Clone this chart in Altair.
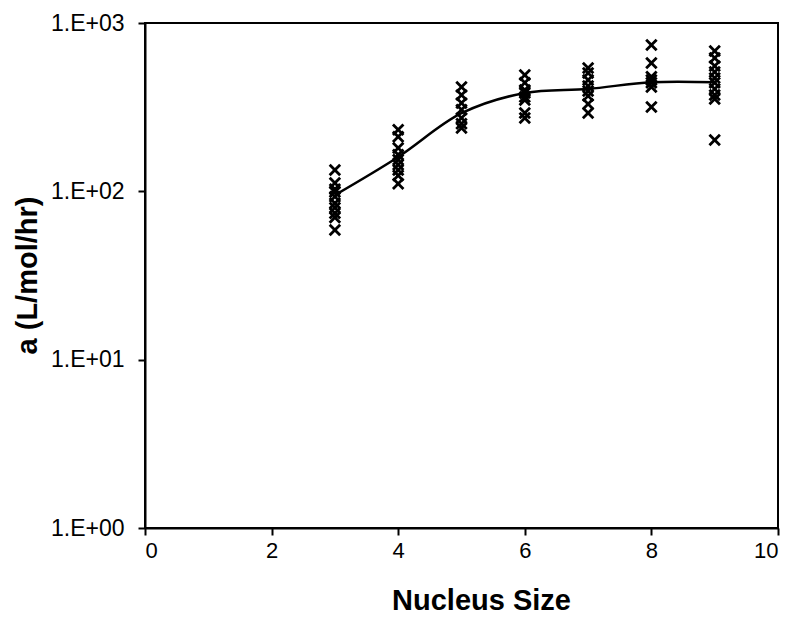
import altair as alt
import pandas as pd

nucleus_sizes = [3, 4, 5, 6, 7, 8, 9]
a_at_3 = [134, 112, 103, 99, 93, 85, 80, 74, 70, 59]
a_at_4 = [232, 211, 181, 165, 154, 144, 134, 124, 111]
a_at_5 = [417, 374, 335, 305, 273, 252, 238]
a_at_6 = [491, 441, 400, 384, 364, 349, 292, 273]
a_at_7 = [541, 505, 459, 423, 395, 369, 330, 292]
a_at_8 = [740, 579, 479, 459, 441, 417, 317]
a_at_9 = [682, 620, 556, 512, 472, 441, 406, 374, 354, 202]
fit_line = [95, 160, 291, 384, 406, 445, 445]

groups = [a_at_3, a_at_4, a_at_5, a_at_6, a_at_7, a_at_8, a_at_9]
rows = []
for n, vals in zip(nucleus_sizes, groups):
    for v in vals:
        rows.append({"n": n, "a": v})
pts = pd.DataFrame(rows)
fit = pd.DataFrame({"n": nucleus_sizes, "a": fit_line})

FONT = "Liberation Sans"

xenc = alt.X("n:Q", scale=alt.Scale(domain=[0, 10], nice=False),
             axis=alt.Axis(title="Nucleus Size", values=[0, 2, 4, 6, 8, 10], format="d",
                           grid=False, tickSize=7, tickWidth=2, tickColor="black",
                           domainColor="black", domainWidth=2,
                           labelFont=FONT, labelFontSize=22, labelColor="black",
                           labelPadding=5,
                           titleFont=FONT, titleFontSize=29, titleFontWeight="bold",
                           titleColor="black", titleX=336, titleY=58))
yenc = alt.Y("a:Q", scale=alt.Scale(type="log", domain=[1, 1000], nice=False),
             axis=alt.Axis(title="a (L/mol/hr)", values=[1, 10, 100, 1000],
                           labelExpr="'1.E+0' + format(round(log(datum.value)/LN10), 'd')",
                           grid=False, tickSize=7, tickWidth=2, tickColor="black",
                           domainColor="black", domainWidth=2,
                           labelFont=FONT, labelFontSize=23, labelColor="black",
                           labelPadding=14,
                           titleFont=FONT, titleFontSize=29, titleFontWeight="bold",
                           titleColor="black", titleX=-103, titleY=252))

scatter = alt.Chart(pts).mark_point(
    shape="M-1,-1L1,1M1,-1L-1,1", size=110, stroke="black", strokeWidth=2.8,
    filled=False, opacity=1
).encode(x=xenc, y=yenc)

line = alt.Chart(fit).mark_line(color="black", strokeWidth=2.5, interpolate="catmull-rom").encode(
    x="n:Q", y="a:Q")

chart = alt.layer(line, scatter).properties(
    width=633, height=505,
    autosize=alt.AutoSizeParams(type="none"),
    padding={"left": 137, "top": 15, "right": 14, "bottom": 100},
    background="white",
).configure_view(stroke="black", strokeWidth=2)

chart.save("out.html", embed_options={"renderer": "svg", "actions": False})
